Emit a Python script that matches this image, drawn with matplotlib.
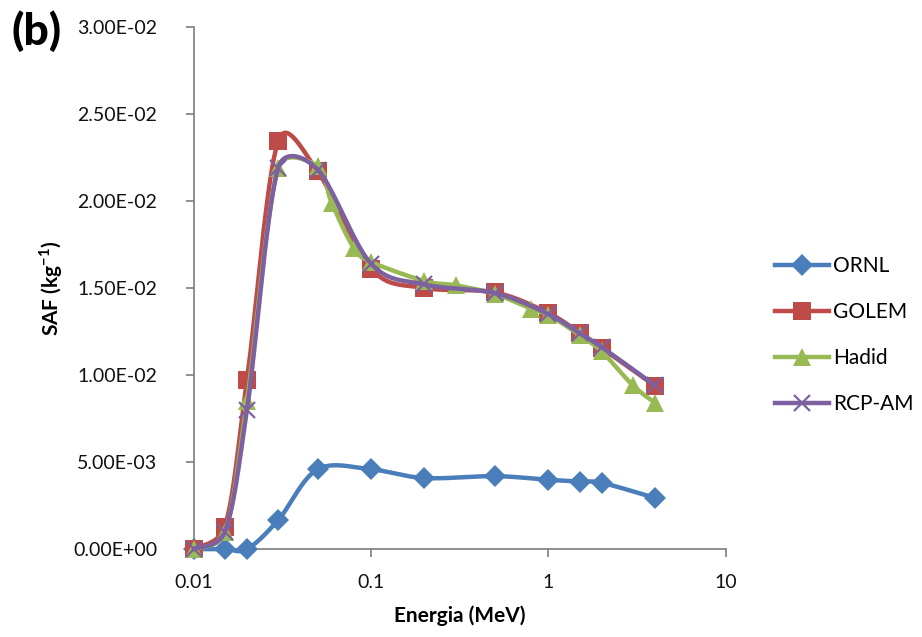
import numpy as np
import matplotlib
matplotlib.use("Agg")
import matplotlib.pyplot as plt
from matplotlib.lines import Line2D
from matplotlib.ticker import FuncFormatter, FixedLocator, NullLocator

plt.rcParams['font.family'] = ['Lato', 'DejaVu Sans']
plt.rcParams['mathtext.fontset'] = 'custom'
plt.rcParams['mathtext.bf'] = 'Lato:bold'
plt.rcParams['mathtext.rm'] = 'Lato'

# --- data: SAF (kg^-1) vs photon energy (MeV) ---
e_ornl = [0.01, 0.015, 0.02, 0.03, 0.05, 0.1, 0.2, 0.5, 1, 1.5, 2, 4]
saf_ornl = [0.0, 0.0, 0.0, 0.00167, 0.00458, 0.00458, 0.00408, 0.00419,
            0.00398, 0.00388, 0.00381, 0.00294]

e_golem = [0.01, 0.015, 0.02, 0.03, 0.05, 0.1, 0.2, 0.5, 1, 1.5, 2, 4]
saf_golem = [0.0, 0.00129, 0.00971, 0.02345, 0.0217, 0.0161, 0.0150, 0.01474,
             0.01356, 0.01242, 0.01155, 0.00937]

e_hadid = [0.01, 0.015, 0.02, 0.03, 0.05, 0.06, 0.08, 0.1, 0.2, 0.3, 0.5,
           0.8, 1, 1.5, 2, 3, 4]
saf_hadid = [0.0, 0.00096, 0.0085, 0.0219, 0.0220, 0.0199, 0.0173, 0.0165,
             0.0154, 0.01515, 0.01465, 0.0138, 0.01345, 0.0123, 0.01135,
             0.0094, 0.0084]

e_rcp = [0.01, 0.015, 0.02, 0.03, 0.05, 0.1, 0.2, 0.5, 1, 1.5, 2, 4]
saf_rcp = [0.0, 0.0010, 0.0080, 0.0219, 0.0218, 0.0164, 0.0152, 0.0147,
           0.0135, 0.0124, 0.0116, 0.0094]

series = [
    ("ORNL", e_ornl, saf_ornl, "#4A7EBB", "D", 11.5),
    ("GOLEM", e_golem, saf_golem, "#BE4B48", "s", 12.5),
    ("Hadid", e_hadid, saf_hadid, "#98B954", "^", 13.5),
    ("RCP-AM", e_rcp, saf_rcp, "#7D60A0", "x", 11.5),
]

y_ticks = [0.0, 0.005, 0.01, 0.015, 0.02, 0.025, 0.03]
x_ticks = [0.01, 0.1, 1, 10]
x_ticklabels = ["0.01", "0.1", "1", "10"]

# screen scale used for the smoothing (pixels per decade / per SAF unit)
PX_DECADE = 177.3
PX_UNIT = 17400.0


def smooth(xs, ys, n=40):
    # spreadsheet-style smoothed line: Bezier segments, tangent (P2-P0)/6,
    # each control arm capped at half the segment length (screen space)
    px = np.log10(np.asarray(xs, float)) * PX_DECADE
    py = np.asarray(ys, float) * PX_UNIT
    pts = np.column_stack([px, py])
    m = len(pts)
    out = []
    t = np.linspace(0, 1, n)[:, None]
    for i in range(m - 1):
        p0 = pts[max(i - 1, 0)]
        p1 = pts[i]
        p2 = pts[i + 1]
        p3 = pts[min(i + 2, m - 1)]
        d12 = np.linalg.norm(p2 - p1)
        a = (p2 - p0) / 6.0
        b = (p3 - p1) / 6.0
        la, lb = np.linalg.norm(a), np.linalg.norm(b)
        if la > d12 / 2 and la > 0:
            a *= (d12 / 2) / la
        if lb > d12 / 2 and lb > 0:
            b *= (d12 / 2) / lb
        c1 = p1 + a
        c2 = p2 - b
        seg = ((1 - t) ** 3) * p1 + 3 * ((1 - t) ** 2) * t * c1 \
            + 3 * (1 - t) * t ** 2 * c2 + t ** 3 * p2
        out.append(seg if i == 0 else seg[1:])
    curve = np.vstack(out)
    return 10 ** (curve[:, 0] / PX_DECADE), curve[:, 1] / PX_UNIT


fig = plt.figure(figsize=(9.22, 6.37), dpi=100)
ax = fig.add_axes([0.21, 0.138, 0.577, 0.82])

handles = []
for k, (name, xs, ys, col, mk, ms) in enumerate(series):
    cx, cy = smooth(xs, ys)
    ax.plot(cx, cy, color=col, lw=3.2, solid_capstyle='round',
            zorder=3 + k, clip_on=False)
    mew = 1.6 if mk == "x" else 0
    ax.plot(xs, ys, linestyle='none', marker=mk, ms=ms, mew=mew,
            color=col, zorder=3 + k, clip_on=False)
    handles.append(Line2D([], [], color=col, lw=3.2, marker=mk, ms=ms,
                          mew=mew, label=name))

ax.set_xscale('log')
ax.set_xlim(0.01, 10)
ax.set_ylim(0, 0.03)

ax.xaxis.set_major_locator(FixedLocator(x_ticks))
ax.xaxis.set_minor_locator(NullLocator())
ax.set_xticklabels(x_ticklabels)
ax.yaxis.set_major_locator(FixedLocator(y_ticks))
ax.yaxis.set_major_formatter(FuncFormatter(lambda v, p: f"{v:.2E}"))

for side in ("top", "right"):
    ax.spines[side].set_visible(False)
for side in ("left", "bottom"):
    ax.spines[side].set_color("#868686")
    ax.spines[side].set_linewidth(1.3)
ax.tick_params(axis='both', direction='out', length=6, width=1.3,
               color="#868686", labelsize=14, labelcolor="#111111")
ax.tick_params(axis='x', pad=12)
ax.tick_params(axis='y', pad=20)

ax.set_xlabel("Energia (MeV)", fontsize=15, fontweight='bold', labelpad=10)
ax.set_ylabel("SAF (kg$^{\\mathbf{-1}}$)", fontsize=15, fontweight='bold',
              labelpad=6)

fig.text(0.012, 0.951, "(b)", fontsize=32, fontweight='black', ha='left',
         va='center')

fig.legend(handles=handles, loc='center left', bbox_to_anchor=(0.832, 0.474),
           frameon=False, fontsize=15, handlelength=2.55, handletextpad=0.2,
           labelspacing=1.25, borderaxespad=0)

fig.savefig("out.png", dpi=100)
